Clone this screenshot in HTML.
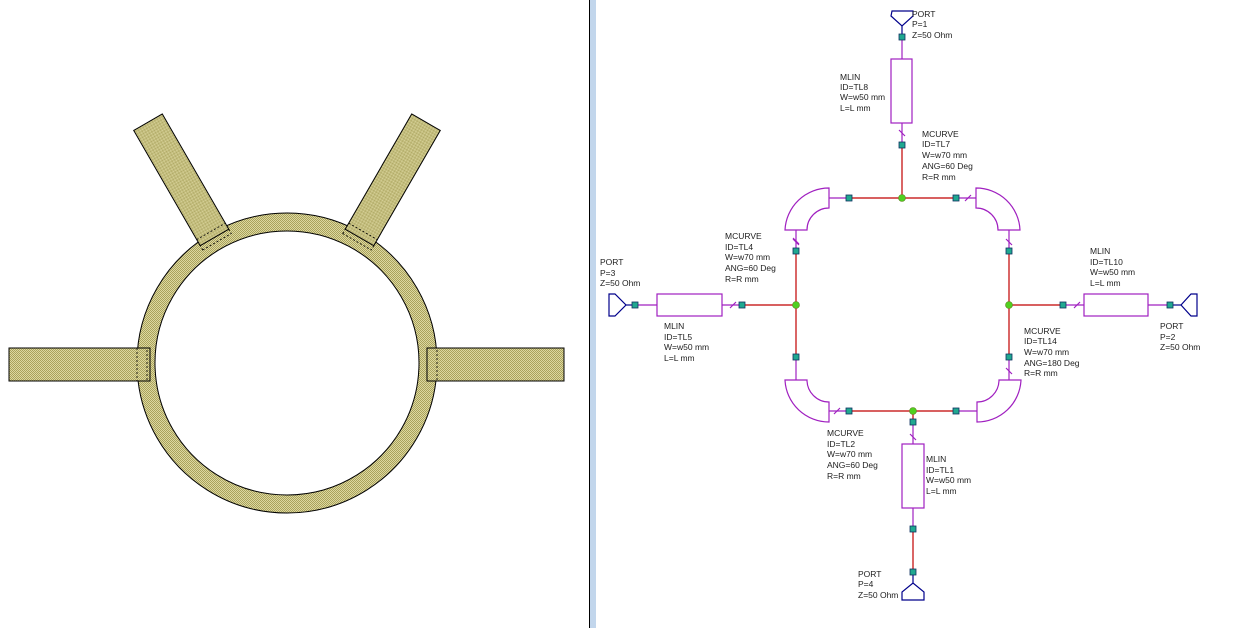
<!DOCTYPE html>
<html><head><meta charset="utf-8"><style>
html,body{margin:0;padding:0;background:#fff;}
svg{display:block;}
text{font-family:"Liberation Sans",Arial,sans-serif;font-size:8.5px;fill:#222;}
</style></head><body>
<svg width="1249" height="628" viewBox="0 0 1249 628" xmlns="http://www.w3.org/2000/svg">
<defs>
<pattern id="h" width="2" height="2" patternUnits="userSpaceOnUse">
<rect width="2" height="2" fill="#ddd8a0"/><rect width="1" height="1" fill="#a9a25c"/><rect x="1" y="1" width="1" height="1" fill="#a9a25c"/>
</pattern>
</defs>
<rect width="1249" height="628" fill="#fff"/>
<!-- layout -->
<g stroke="#000" stroke-width="1">
<path d="M287,213 a150,150 0 1,0 0.01,0 Z M287,231 a132,132 0 1,1 -0.01,0 Z" fill="url(#h)" fill-rule="evenodd"/>
<rect x="9" y="348" width="141" height="33" fill="url(#h)"/>
<rect x="427" y="348" width="137" height="33" fill="url(#h)"/>
<g transform="translate(287,363) rotate(-120)"><rect x="145" y="-16.5" width="133" height="33" fill="url(#h)"/></g>
<g transform="translate(287,363) rotate(-60)"><rect x="145" y="-16.5" width="133" height="33" fill="url(#h)"/></g>
</g>
<g stroke="#000" stroke-width="0.8" fill="none" stroke-dasharray="2,2">
<rect x="137" y="348" width="10" height="33"/><rect x="427" y="348" width="10" height="33"/>
<g transform="translate(287,363) rotate(-120)"><rect x="140" y="-16.5" width="12" height="33"/></g>
<g transform="translate(287,363) rotate(-60)"><rect x="140" y="-16.5" width="12" height="33"/></g>
</g>
<!-- divider -->
<rect x="589" y="0" width="1" height="628" fill="#000"/>
<rect x="590" y="0" width="6" height="628" fill="#c2d6ec"/>
<!-- schematic -->
<g fill="none" stroke-width="1.2">
<g stroke="#c00000">
<line x1="849" y1="198" x2="956" y2="198"/><line x1="902" y1="145" x2="902" y2="198"/>
<line x1="796" y1="251" x2="796" y2="357"/><line x1="742" y1="305" x2="796" y2="305"/>
<line x1="1009" y1="251" x2="1009" y2="357"/><line x1="1009" y1="305" x2="1063" y2="305"/>
<line x1="849" y1="411" x2="956" y2="411"/><line x1="913" y1="411" x2="913" y2="422"/>
<line x1="913" y1="529" x2="913" y2="572"/>
</g>
<g stroke="#a020c0">
<line x1="902" y1="37" x2="902" y2="59"/><rect x="891" y="59" width="21" height="64"/><line x1="902" y1="123" x2="902" y2="145"/>
<line x1="829" y1="198" x2="849" y2="198"/><line x1="956" y1="198" x2="976" y2="198"/>
<line x1="796" y1="230" x2="796" y2="251"/><line x1="1009" y1="230" x2="1009" y2="251"/>
<line x1="796" y1="357" x2="796" y2="380"/><line x1="1009" y1="357" x2="1009" y2="380"/>
<line x1="829" y1="411" x2="849" y2="411"/><line x1="956" y1="411" x2="977" y2="411"/>
<line x1="635" y1="305" x2="657" y2="305"/><rect x="657" y="294" width="65" height="22"/><line x1="722" y1="305" x2="742" y2="305"/>
<line x1="1063" y1="305" x2="1084" y2="305"/><rect x="1084" y="294" width="64" height="22"/><line x1="1148" y1="305" x2="1170" y2="305"/>
<line x1="913" y1="422" x2="913" y2="444"/><rect x="902" y="444" width="22" height="64"/><line x1="913" y1="508" x2="913" y2="529"/>
<!-- curves -->
<path d="M829,188 L829,208 A22,22 0 0,0 807,230 L785,230 A44,44 0 0,1 829,188 Z"/>
<path d="M976,188 L976,208 A22,22 0 0,1 998,230 L1020,230 A44,44 0 0,0 976,188 Z"/>
<path d="M829,422 L829,402 A22,22 0 0,1 807,380 L785,380 A44,44 0 0,0 829,422 Z"/>
<path d="M977,422 L977,402 A22,22 0 0,0 999,380 L1021,380 A44,44 0 0,1 977,422 Z"/>
<!-- ticks -->
<path d="M899,130 l6,6 M793,239 l6,6 M1006,239 l6,6 M1006,368 l6,6 M834,414 l6,-6 M965,201 l6,-6 M910,434 l6,6 M730,308 l6,-6 M1074,308 l6,-6 M793,238 l6,6"/>
</g>
<g stroke="#00008b" stroke-width="1.2" fill="none">
<path d="M892,11 L913,11 L913,16 L902,26 L891,16 Z"/><line x1="902" y1="26" x2="902" y2="37"/>
<path d="M609,294 L615,294 L626,305 L615,316 L609,316 Z"/><line x1="626" y1="305" x2="635" y2="305"/>
<path d="M1197,294 L1191,294 L1181,305 L1191,316 L1197,316 Z"/><line x1="1170" y1="305" x2="1181" y2="305"/>
<path d="M902,600 L924,600 L924,592 L913,583 L902,592 Z"/><line x1="913" y1="572" x2="913" y2="583"/>
</g>
<g fill="#20a890" stroke="#103060" stroke-width="0.8">
<rect x="899" y="34" width="6" height="6"/><rect x="899" y="142" width="6" height="6"/>
<rect x="846" y="195" width="6" height="6"/><rect x="953" y="195" width="6" height="6"/>
<rect x="793" y="248" width="6" height="6"/><rect x="1006" y="248" width="6" height="6"/>
<rect x="793" y="354" width="6" height="6"/><rect x="1006" y="354" width="6" height="6"/>
<rect x="846" y="408" width="6" height="6"/><rect x="953" y="408" width="6" height="6"/>
<rect x="910" y="419" width="6" height="6"/><rect x="910" y="526" width="6" height="6"/><rect x="910" y="569" width="6" height="6"/>
<rect x="632" y="302" width="6" height="6"/><rect x="739" y="302" width="6" height="6"/>
<rect x="1060" y="302" width="6" height="6"/><rect x="1167" y="302" width="6" height="6"/>
</g>
<g fill="#50d020" stroke="#608020" stroke-width="0.6">
<circle cx="902" cy="198" r="3.5"/><circle cx="796" cy="305" r="3.5"/><circle cx="1009" cy="305" r="3.5"/><circle cx="913" cy="411" r="3.5"/>
</g>
<!-- labels -->
<text x="912" y="17">PORT</text><text x="912" y="27">P=1</text><text x="912" y="38">Z=50 Ohm</text>
<text x="840" y="80">MLIN</text><text x="840" y="90">ID=TL8</text><text x="840" y="100">W=w50 mm</text><text x="840" y="111">L=L mm</text>
<text x="922" y="137">MCURVE</text><text x="922" y="147">ID=TL7</text><text x="922" y="158">W=w70 mm</text><text x="922" y="169">ANG=60 Deg</text><text x="922" y="180">R=R mm</text>
<text x="725" y="239">MCURVE</text><text x="725" y="250">ID=TL4</text><text x="725" y="260">W=w70 mm</text><text x="725" y="271">ANG=60 Deg</text><text x="725" y="282">R=R mm</text>
<text x="600" y="265">PORT</text><text x="600" y="276">P=3</text><text x="600" y="286">Z=50 Ohm</text>
<text x="664" y="329">MLIN</text><text x="664" y="340">ID=TL5</text><text x="664" y="350">W=w50 mm</text><text x="664" y="361">L=L mm</text>
<text x="1090" y="254">MLIN</text><text x="1090" y="265">ID=TL10</text><text x="1090" y="275">W=w50 mm</text><text x="1090" y="286">L=L mm</text>
<text x="1160" y="329">PORT</text><text x="1160" y="340">P=2</text><text x="1160" y="350">Z=50 Ohm</text>
<text x="1024" y="334">MCURVE</text><text x="1024" y="344">ID=TL14</text><text x="1024" y="355">W=w70 mm</text><text x="1024" y="366">ANG=180 Deg</text><text x="1024" y="376">R=R mm</text>
<text x="827" y="436">MCURVE</text><text x="827" y="447">ID=TL2</text><text x="827" y="457">W=w70 mm</text><text x="827" y="468">ANG=60 Deg</text><text x="827" y="479">R=R mm</text>
<text x="926" y="462">MLIN</text><text x="926" y="473">ID=TL1</text><text x="926" y="483">W=w50 mm</text><text x="926" y="494">L=L mm</text>
<text x="858" y="577">PORT</text><text x="858" y="587">P=4</text><text x="858" y="598">Z=50 Ohm</text>
</svg>
</body></html>
